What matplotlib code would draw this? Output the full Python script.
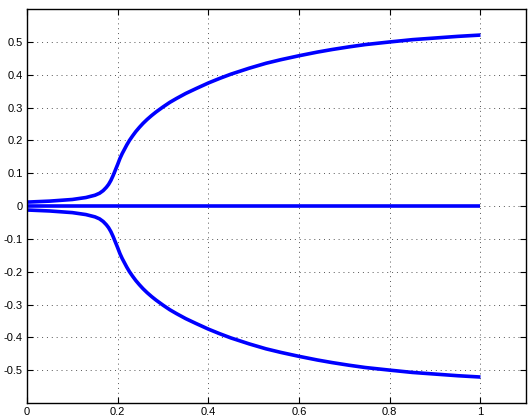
import numpy as np
import matplotlib
matplotlib.use('Agg')
import matplotlib.pyplot as plt

# values
x = [0, 0.05, 0.1, 0.13, 0.15, 0.16, 0.168, 0.175, 0.18, 0.185, 0.19, 0.195, 0.2,
     0.205, 0.21, 0.215, 0.22, 0.226, 0.233, 0.24, 0.248, 0.256, 0.265, 0.275, 0.285,
     0.3, 0.315, 0.33, 0.35, 0.373, 0.4, 0.425, 0.45, 0.49, 0.527, 0.56, 0.6, 0.64,
     0.673, 0.71, 0.746, 0.8, 0.85, 0.9, 0.95, 1.0]
upper = [0.012, 0.015, 0.02, 0.026, 0.033, 0.039, 0.047, 0.057, 0.066, 0.078, 0.093,
         0.11, 0.127, 0.145, 0.16, 0.173, 0.186, 0.2, 0.214, 0.227, 0.24, 0.252, 0.264,
         0.276, 0.287, 0.302, 0.316, 0.328, 0.343, 0.358, 0.375, 0.389, 0.402, 0.42,
         0.435, 0.446, 0.458, 0.469, 0.477, 0.485, 0.492, 0.5, 0.507, 0.512, 0.517, 0.521]
lower = [-0.012, -0.015, -0.02, -0.026, -0.033, -0.039, -0.047, -0.057, -0.066, -0.078,
         -0.093, -0.11, -0.127, -0.145, -0.16, -0.173, -0.186, -0.2, -0.214, -0.227,
         -0.24, -0.252, -0.264, -0.276, -0.287, -0.302, -0.316, -0.328, -0.343, -0.358,
         -0.375, -0.389, -0.402, -0.42, -0.435, -0.446, -0.458, -0.469, -0.477, -0.485,
         -0.492, -0.5, -0.507, -0.512, -0.517, -0.521]
middle = [0.0] * len(x)

xticks = [0, 0.2, 0.4, 0.6, 0.8, 1]
xticklabels = ['0', '0.2', '0.4', '0.6', '0.8', '1']
yticks = [-0.5, -0.4, -0.3, -0.2, -0.1, 0, 0.1, 0.2, 0.3, 0.4, 0.5]
yticklabels = ['-0.5', '-0.4', '-0.3', '-0.2', '-0.1', '0', '0.1', '0.2', '0.3', '0.4', '0.5']

plt.rcParams['font.family'] = ['Liberation Sans', 'DejaVu Sans']

fig = plt.figure(figsize=(5.29, 4.15), dpi=100)
ax = fig.add_axes([0.051, 0.029, 0.943, 0.949])

ax.plot(x, upper, color='#0000ff', lw=2.6, solid_capstyle='butt')
ax.plot(x, middle, color='#0000ff', lw=2.6, solid_capstyle='butt')
ax.plot(x, lower, color='#0000ff', lw=2.6, solid_capstyle='butt')

ax.set_xlim(0, 1.1)
ax.set_ylim(-0.6, 0.6)
ax.set_xticks(xticks)
ax.set_xticklabels(xticklabels)
ax.set_yticks(yticks)
ax.set_yticklabels(yticklabels)

ax.grid(True, linestyle=(0, (1, 4)), color='#555555', lw=0.7)
ax.tick_params(direction='in', top=True, right=True, length=4, width=0.8,
               labelsize=8, pad=3)
for s in ax.spines.values():
    s.set_linewidth(1.0)

fig.savefig('out.png', dpi=100)
